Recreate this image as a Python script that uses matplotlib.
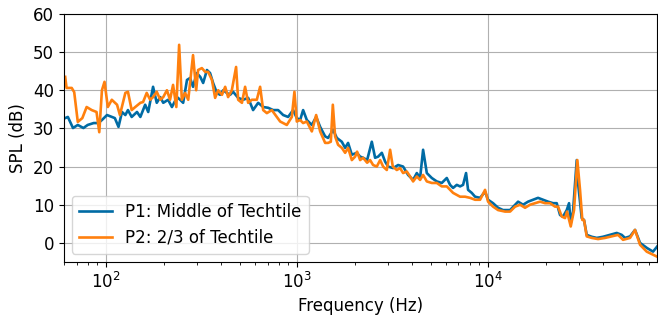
import matplotlib
matplotlib.use("Agg")
import matplotlib.pyplot as plt

# P1: Middle of Techtile
p1_freq = [61, 63, 67, 71, 76, 80, 86, 91, 95, 101, 107, 111, 116, 121, 126, 130, 136, 145,
           151, 160, 166, 176, 184, 192, 199, 211, 221, 235, 244, 253, 265, 275, 285, 298,
           311, 322, 337, 350, 363, 380, 395, 410, 428, 446, 462, 491, 522, 554, 588, 625,
           664, 705, 749, 795, 845, 897, 953, 996, 1037, 1075, 1124, 1194, 1258, 1320,
           1402, 1453, 1544, 1614, 1714, 1784, 1849, 1934, 2054, 2137, 2216, 2326, 2461,
           2561, 2656, 2777, 2889, 2996, 3181, 3380, 3589, 3813, 4050, 4234, 4406, 4568,
           4777, 5073, 5388, 5722, 6078, 6324, 6558, 6857, 7135, 7397, 7669, 7856, 8214,
           8550, 9080, 9645, 10000, 10620, 11280, 11980, 13040, 13850, 14360, 15250, 16200,
           17200, 18270, 19410, 20620, 21890, 22890, 23820, 24700, 25820, 26550, 27100,
           27860, 29130, 29590, 30940, 31810, 32860, 34910, 37080, 40000, 43530, 47190,
           50120, 52150, 55400, 58840, 62500, 67760, 73110, 76710]
p1_spl = [32.7, 33.0, 30.1, 30.9, 30.1, 30.9, 31.4, 31.4, 32.2, 33.5, 33.0, 32.7, 30.4, 34.3,
          33.5, 34.8, 33.0, 34.3, 33.0, 36.2, 34.3, 40.9, 36.7, 38.2, 36.7, 37.5, 35.6, 38.2,
          37.5, 36.7, 42.7, 43.2, 40.9, 44.5, 43.5, 41.9, 45.3, 44.5, 41.9, 39.3, 38.8, 40.0,
          39.3, 38.8, 39.6, 38.0, 37.5, 38.0, 34.8, 36.7, 35.6, 35.4, 34.8, 34.8, 33.5, 33.0,
          34.8, 32.7, 32.2, 34.8, 32.2, 30.9, 33.0, 30.4, 27.9, 27.5, 29.6, 27.5, 26.5, 24.9,
          26.2, 23.1, 23.6, 22.6, 22.3, 21.7, 26.5, 22.3, 22.6, 23.6, 21.3, 20.0, 19.6, 20.4,
          20.0, 17.8, 16.5, 18.3, 17.0, 24.4, 18.3, 17.0, 16.1, 15.7, 17.0, 15.2, 14.4, 15.2,
          14.8, 15.2, 18.3, 13.9, 13.1, 12.1, 11.8, 13.4, 11.3, 10.4, 9.2, 8.6, 8.6, 10.0,
          10.8, 10.0, 10.8, 11.3, 11.8, 11.3, 10.8, 10.4, 10.4, 7.3, 6.9, 8.6, 10.4, 5.2, 8.2,
          21.7, 15.7, 6.5, 6.0, 2.1, 1.6, 1.3, 1.6, 2.1, 2.6, 2.1, 1.3, 1.7, 3.4, 0.0, -1.3,
          -2.3, -1.0]

# P2: 2/3 of Techtile
p2_freq = [61, 62, 66, 68, 71, 75, 79, 84, 89, 92, 95, 98, 102, 107, 114, 118, 126, 130, 136,
           142, 151, 156, 163, 170, 176, 184, 192, 199, 208, 216, 224, 233, 241, 249, 259,
           269, 285, 296, 303, 317, 330, 342, 358, 372, 386, 404, 420, 435, 455, 479, 491,
           514, 534, 554, 579, 615, 640, 664, 694, 737, 783, 815, 883, 938, 968, 996, 1037,
           1075, 1124, 1194, 1258, 1320, 1402, 1453, 1501, 1538, 1581, 1639, 1714, 1784,
           1849, 1934, 2013, 2061, 2137, 2216, 2326, 2411, 2500, 2614, 2721, 2821, 2949,
           3069, 3170, 3327, 3462, 3589, 3753, 3906, 4050, 4234, 4406, 4568, 4777, 5073,
           5388, 5722, 6078, 6324, 6558, 7135, 7578, 8048, 8550, 9080, 9645, 10000, 10620,
           11280, 12270, 13040, 13850, 14710, 15620, 16590, 17630, 18720, 19880, 21120,
           22430, 23250, 24320, 25300, 25920, 27100, 28200, 29340, 30310, 31160, 31810,
           32860, 34910, 37670, 40990, 44430, 47940, 50910, 55400, 58840, 62500, 67760,
           73110, 76710]
p2_spl = [43.5, 40.6, 40.6, 39.5, 31.7, 32.7, 35.6, 34.8, 34.3, 29.0, 40.0, 42.2, 35.6, 37.5,
          36.2, 33.5, 39.3, 39.6, 34.8, 35.6, 36.7, 36.9, 39.3, 37.5, 38.2, 39.6, 37.5, 38.2,
          40.0, 37.5, 41.4, 35.6, 51.9, 37.5, 39.3, 37.5, 49.2, 40.0, 45.3, 45.8, 44.8, 44.8,
          42.7, 38.0, 40.0, 38.8, 40.9, 38.2, 40.0, 46.1, 37.5, 36.7, 40.9, 36.7, 37.5, 37.5,
          40.9, 34.8, 34.0, 34.8, 33.0, 31.8, 30.9, 33.0, 39.6, 31.8, 32.2, 31.4, 31.8, 29.2,
          33.5, 29.2, 26.2, 26.2, 26.5, 36.2, 27.9, 25.7, 24.9, 23.6, 24.9, 21.7, 22.6, 23.9,
          21.7, 22.3, 21.0, 21.7, 20.4, 20.0, 21.7, 20.0, 19.1, 24.4, 20.0, 19.1, 19.6, 18.3,
          18.7, 17.4, 16.1, 17.4, 16.5, 17.8, 16.1, 15.7, 15.7, 14.8, 14.8, 13.9, 13.1, 12.1,
          12.1, 11.8, 11.3, 11.3, 13.9, 10.8, 9.5, 8.6, 8.2, 8.2, 9.5, 10.0, 9.2, 10.0, 10.4,
          10.8, 10.4, 10.4, 9.5, 9.5, 6.9, 6.5, 8.2, 4.3, 8.6, 21.7, 13.9, 6.0, 6.0, 1.7, 1.3,
          1.0, 1.3, 1.7, 2.1, 0.8, 1.3, 3.4, -0.5, -2.3, -3.1, -3.6]

plt.rcParams['font.size'] = 12

fig, ax = plt.subplots(figsize=(6.58, 3.16), dpi=100)
fig.subplots_adjust(left=0.097, right=0.9985, top=0.956, bottom=0.171)

ax.plot(p1_freq, p1_spl, color='#006BA4', lw=1.9, label='P1: Middle of Techtile')
ax.plot(p2_freq, p2_spl, color='#FF800E', lw=1.9, label='P2: 2/3 of Techtile')

ax.set_xscale('log')
ax.set_xlim(60, 76700)
ax.set_ylim(-5, 60)
ax.grid(True, which='major', color='#b0b0b0', linewidth=0.8)
ax.set_xlabel('Frequency (Hz)')
ax.set_ylabel('SPL (dB)')
ax.legend(loc='lower left')

fig.savefig('out.png', dpi=100)
